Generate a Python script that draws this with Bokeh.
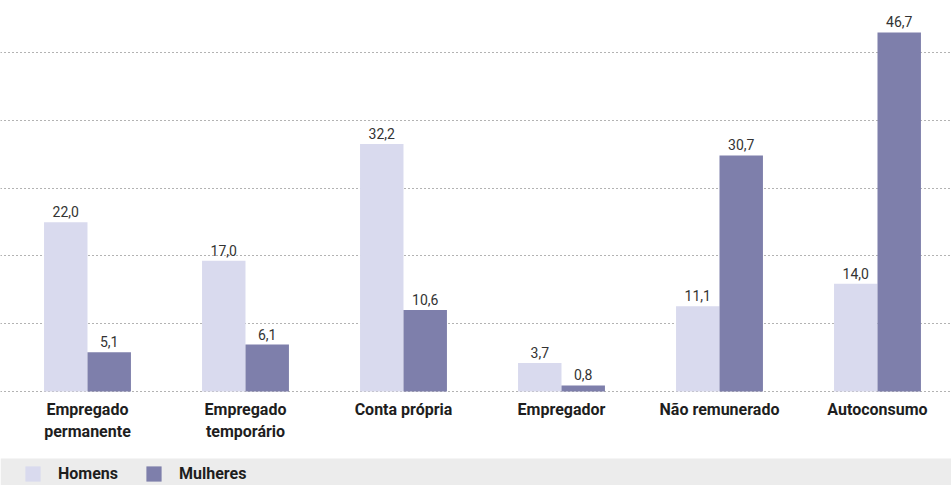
from bokeh.plotting import figure
from bokeh.models import ColumnDataSource, FixedTicker, BoxAnnotation, Legend, LegendItem
from bokeh.transform import dodge
from bokeh.core.properties import value
from bokeh.embed import file_html
from bokeh.resources import INLINE

categories = ["Empregado\npermanente", "Empregado\ntemporário", "Conta própria",
              "Empregador", "Não remunerado", "Autoconsumo"]
homens = [22.0, 17.0, 32.2, 3.7, 11.1, 14.0]
mulheres = [5.1, 6.1, 10.6, 0.8, 30.7, 46.7]
series_names = ["Homens", "Mulheres"]

C_H = "#d9daee"
C_M = "#7e7fab"
FONT = "Roboto"

idx = list(range(len(categories)))
src = ColumnDataSource(data=dict(
    x=idx, cat=categories, h=homens, m=mulheres,
    h_lbl=[f"{v:.1f}".replace(".", ",") for v in homens],
    m_lbl=[f"{v:.1f}".replace(".", ",") for v in mulheres],
    zero=[0] * len(idx),
))

p = figure(width=951, height=485, output_backend="svg", toolbar_location=None,
           x_range=(-0.5506, 5.4684), y_range=(-12.22, 50.85), min_border=0,
           outline_line_color=None, background_fill_color="white",
           border_fill_color="white")
p.xaxis.visible = False
p.yaxis.visible = False
p.xgrid.visible = False
p.ygrid.ticker = FixedTicker(ticks=[i * 8.82 for i in range(6)])
p.ygrid.grid_line_color = "#666666"
p.ygrid.grid_line_dash = "1 3"
p.ygrid.grid_line_width = 1

band = BoxAnnotation(top=-8.71, fill_color="#ececec", fill_alpha=1.0, line_alpha=0, level="underlay")
p.add_layout(band)

w = 0.275
rh = p.vbar(x=dodge("x", -w / 2, range=p.x_range), top="h", width=w, source=src,
            fill_color=C_H, line_color=None)
rm = p.vbar(x=dodge("x", w / 2, range=p.x_range), top="m", width=w, source=src,
            fill_color=C_M, line_color=None)

common = dict(text_font=value(FONT), text_font_size="14px", text_color="#333333",
              text_align="center", text_baseline="bottom", y_offset=-5)
p.text(x=dodge("x", -w / 2, range=p.x_range), y="h", text="h_lbl", source=src, **common)
p.text(x=dodge("x", w / 2, range=p.x_range), y="m", text="m_lbl", source=src, **common)

p.text(x="x", y="zero", text="cat", source=src, text_font=value(FONT),
       text_font_size="16px", text_font_style="bold", text_color="#1e1e1e",
       text_align="center", text_baseline="top", y_offset=8, text_line_height=1.2)

legend = Legend(items=[LegendItem(label=series_names[0], renderers=[rh]),
                       LegendItem(label=series_names[1], renderers=[rm])],
                location=(21, 0), orientation="horizontal",
                glyph_width=19, glyph_height=19, label_standoff=16, spacing=26,
                padding=2, margin=0, background_fill_alpha=0, border_line_alpha=0,
                label_text_font=FONT, label_text_font_size="16px",
                label_text_font_style="bold", label_text_color="#1e1e1e",
                label_height=19)
p.add_layout(legend)

open("out.html", "w").write(file_html(p, INLINE))
